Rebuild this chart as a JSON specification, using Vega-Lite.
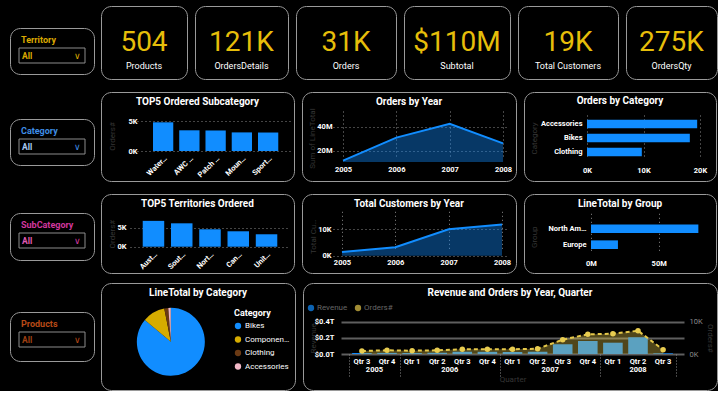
{
  "$schema": "https://vega.github.io/schema/vega-lite/v6.json",
  "background": "#000000",
  "padding": {"left": 9, "top": 5, "right": 0, "bottom": 0},
  "config": {
    "font": "Roboto",
    "view": {"stroke": "#9a9a9a", "strokeWidth": 1, "cornerRadius": 10},
    "axis": {"labelColor": "#ffffff", "labelFont": "Roboto", "labelFontWeight": "bold", "labelFontSize": 7.5, "domain": false, "ticks": false, "grid": false, "gridColor": "#8a8a8a", "gridDash": [1, 3], "gridWidth": 1, "titleColor": "#363636", "titleFont": "Roboto", "titleFontWeight": "normal", "titleFontSize": 8, "labelOverlap": false, "labelFlush": false, "labelBound": false, "labelPadding": 2},
    "title": {"color": "#ffffff", "font": "Roboto", "fontSize": 10, "fontWeight": "bold", "anchor": "middle", "frame": "group"},
    "text": {"font": "Roboto"}
  },
  "datasets": {
    "kpis": [
      {"metric": "Products", "value": 504, "currency": false},
      {"metric": "OrdersDetails", "value": 121317, "currency": false},
      {"metric": "Orders", "value": 31465, "currency": false},
      {"metric": "Subtotal", "value": 109846381, "currency": true},
      {"metric": "Total Customers", "value": 19119, "currency": false},
      {"metric": "OrdersQty", "value": 274914, "currency": false}
    ],
    "slicers": [
      {"Slicer": "Territory", "Selection": "All"},
      {"Slicer": "Category", "Selection": "All"},
      {"Slicer": "SubCategory", "Selection": "All"},
      {"Slicer": "Products", "Selection": "All"}
    ],
    "subcat": [
      {"Subcategory": "Water Bottle - 30 oz.", "Orders": 4780},
      {"Subcategory": "AWC Logo Cap", "Orders": 3450},
      {"Subcategory": "Patch Kit/8 Patches", "Orders": 3420},
      {"Subcategory": "Mountain Tire Tube", "Orders": 3100},
      {"Subcategory": "Sport-100 Helmet, Blue", "Orders": 3080}
    ],
    "ordersYear": [
      {"Year": 2005, "LineTotal": 12000000},
      {"Year": 2006, "LineTotal": 31000000},
      {"Year": 2007, "LineTotal": 42500000},
      {"Year": 2008, "LineTotal": 26200000}
    ],
    "ordersCat": [
      {"Category": "Accessories", "Orders": 19500},
      {"Category": "Bikes", "Orders": 18200},
      {"Category": "Clothing", "Orders": 9700}
    ],
    "territories": [
      {"Territory": "Australia", "Orders": 6900},
      {"Territory": "Southwest", "Orders": 6250},
      {"Territory": "Northwest", "Orders": 4650},
      {"Territory": "Canada", "Orders": 4120},
      {"Territory": "United Kingdom", "Orders": 3320}
    ],
    "custYear": [
      {"Year": 2005, "Customers": 1400},
      {"Year": 2006, "Customers": 3200},
      {"Year": 2007, "Customers": 10000},
      {"Year": 2008, "Customers": 11800}
    ],
    "groups": [
      {"Group": "North America", "LineTotal": 79300000},
      {"Group": "Europe", "LineTotal": 19900000}
    ],
    "catTotal": [
      {"Category": "Bikes", "LineTotal": 94600000},
      {"Category": "Components", "LineTotal": 11800000},
      {"Category": "Clothing", "LineTotal": 2100000},
      {"Category": "Accessories", "LineTotal": 1300000}
    ],
    "quarterly": [
      {"Year": "2005", "Period": "2005 Q3", "Revenue": 1.2e10, "Orders": 930},
      {"Year": "2005", "Period": "2005 Q4", "Revenue": 1.4e10, "Orders": 1140},
      {"Year": "2006", "Period": "2006 Q1", "Revenue": 1.2e10, "Orders": 1020},
      {"Year": "2006", "Period": "2006 Q2", "Revenue": 1.5e10, "Orders": 1140},
      {"Year": "2006", "Period": "2006 Q3", "Revenue": 2.8e10, "Orders": 1450},
      {"Year": "2006", "Period": "2006 Q4", "Revenue": 2.7e10, "Orders": 1450},
      {"Year": "2007", "Period": "2007 Q1", "Revenue": 2.5e10, "Orders": 1460},
      {"Year": "2007", "Period": "2007 Q2", "Revenue": 2.8e10, "Orders": 1640},
      {"Year": "2007", "Period": "2007 Q3", "Revenue": 1.2e11, "Orders": 4430},
      {"Year": "2007", "Period": "2007 Q4", "Revenue": 1.61e11, "Orders": 6100},
      {"Year": "2008", "Period": "2008 Q1", "Revenue": 1.4e11, "Orders": 6290},
      {"Year": "2008", "Period": "2008 Q2", "Revenue": 2.07e11, "Orders": 7200},
      {"Year": "2008", "Period": "2008 Q3", "Revenue": 8e9, "Orders": 1330}
    ]
  },
  "hconcat": [
    {
      "vconcat": [
        {"width": 84, "height": 22, "data": {"values": []}, "mark": "point", "view": {"stroke": null}},
        {
          "width": 84, "height": 46,
          "title": {"text": "Territory", "color": "#DBA800", "anchor": "start", "dx": 11, "offset": -17, "fontSize": 9},
          "data": {"name": "slicers"},
          "transform": [{"filter": "datum.Slicer === 'Territory'"}],
          "layer": [
            {"mark": {"type": "rect", "filled": false, "stroke": "#8c8c8c", "strokeWidth": 1},
             "encoding": {"x": {"field": "Selection", "type": "nominal", "axis": null, "scale": {"range": [9, 75], "paddingInner": 0, "paddingOuter": 0}},
                          "y": {"field": "Selection", "type": "nominal", "axis": null, "scale": {"range": [20, 35], "paddingInner": 0, "paddingOuter": 0}}}},
            {"mark": {"type": "text", "align": "left", "dx": 3, "color": "#DBA800", "fontWeight": "bold", "fontSize": 8.5},
             "encoding": {"x": {"field": "Selection", "type": "nominal", "axis": null, "bandPosition": 0, "scale": {"range": [9, 75], "paddingInner": 0, "paddingOuter": 0}},
                          "y": {"field": "Selection", "type": "nominal", "axis": null, "scale": {"range": [20, 35], "paddingInner": 0, "paddingOuter": 0}},
                          "text": {"field": "Selection"}}},
            {"mark": {"type": "text", "align": "right", "dx": -4, "color": "#DBA800", "fontSize": 9},
             "encoding": {"x": {"field": "Selection", "type": "nominal", "axis": null, "bandPosition": 1, "scale": {"range": [9, 75], "paddingInner": 0, "paddingOuter": 0}},
                          "y": {"field": "Selection", "type": "nominal", "axis": null, "scale": {"range": [20, 35], "paddingInner": 0, "paddingOuter": 0}},
                          "text": {"value": "∨"}}}
          ]
        },
        {"width": 84, "height": 45, "data": {"values": []}, "mark": "point", "view": {"stroke": null}},
        {
          "width": 84, "height": 46,
          "title": {"text": "Category", "color": "#3F8EE6", "anchor": "start", "dx": 11, "offset": -17, "fontSize": 9},
          "data": {"name": "slicers"},
          "transform": [{"filter": "datum.Slicer === 'Category'"}],
          "layer": [
            {"mark": {"type": "rect", "filled": false, "stroke": "#8c8c8c", "strokeWidth": 1},
             "encoding": {"x": {"field": "Selection", "type": "nominal", "axis": null, "scale": {"range": [9, 75], "paddingInner": 0, "paddingOuter": 0}},
                          "y": {"field": "Selection", "type": "nominal", "axis": null, "scale": {"range": [20, 35], "paddingInner": 0, "paddingOuter": 0}}}},
            {"mark": {"type": "text", "align": "left", "dx": 3, "color": "#A6C8F2", "fontWeight": "bold", "fontSize": 8.5},
             "encoding": {"x": {"field": "Selection", "type": "nominal", "axis": null, "bandPosition": 0, "scale": {"range": [9, 75], "paddingInner": 0, "paddingOuter": 0}},
                          "y": {"field": "Selection", "type": "nominal", "axis": null, "scale": {"range": [20, 35], "paddingInner": 0, "paddingOuter": 0}},
                          "text": {"field": "Selection"}}},
            {"mark": {"type": "text", "align": "right", "dx": -4, "color": "#3F8EE6", "fontSize": 9},
             "encoding": {"x": {"field": "Selection", "type": "nominal", "axis": null, "bandPosition": 1, "scale": {"range": [9, 75], "paddingInner": 0, "paddingOuter": 0}},
                          "y": {"field": "Selection", "type": "nominal", "axis": null, "scale": {"range": [20, 35], "paddingInner": 0, "paddingOuter": 0}},
                          "text": {"value": "∨"}}}
          ]
        },
        {"width": 84, "height": 48, "data": {"values": []}, "mark": "point", "view": {"stroke": null}},
        {
          "width": 84, "height": 47,
          "title": {"text": "SubCategory", "color": "#D1379E", "anchor": "start", "dx": 11, "offset": -17, "fontSize": 9},
          "data": {"name": "slicers"},
          "transform": [{"filter": "datum.Slicer === 'SubCategory'"}],
          "layer": [
            {"mark": {"type": "rect", "filled": false, "stroke": "#8c8c8c", "strokeWidth": 1},
             "encoding": {"x": {"field": "Selection", "type": "nominal", "axis": null, "scale": {"range": [9, 75], "paddingInner": 0, "paddingOuter": 0}},
                          "y": {"field": "Selection", "type": "nominal", "axis": null, "scale": {"range": [20, 35], "paddingInner": 0, "paddingOuter": 0}}}},
            {"mark": {"type": "text", "align": "left", "dx": 3, "color": "#E05AB4", "fontWeight": "bold", "fontSize": 8.5},
             "encoding": {"x": {"field": "Selection", "type": "nominal", "axis": null, "bandPosition": 0, "scale": {"range": [9, 75], "paddingInner": 0, "paddingOuter": 0}},
                          "y": {"field": "Selection", "type": "nominal", "axis": null, "scale": {"range": [20, 35], "paddingInner": 0, "paddingOuter": 0}},
                          "text": {"field": "Selection"}}},
            {"mark": {"type": "text", "align": "right", "dx": -4, "color": "#D1379E", "fontSize": 9},
             "encoding": {"x": {"field": "Selection", "type": "nominal", "axis": null, "bandPosition": 1, "scale": {"range": [9, 75], "paddingInner": 0, "paddingOuter": 0}},
                          "y": {"field": "Selection", "type": "nominal", "axis": null, "scale": {"range": [20, 35], "paddingInner": 0, "paddingOuter": 0}},
                          "text": {"value": "∨"}}}
          ]
        },
        {"width": 84, "height": 52, "data": {"values": []}, "mark": "point", "view": {"stroke": null}},
        {
          "width": 84, "height": 49,
          "title": {"text": "Products", "color": "#B84A17", "anchor": "start", "dx": 11, "offset": -17, "fontSize": 9},
          "data": {"name": "slicers"},
          "transform": [{"filter": "datum.Slicer === 'Products'"}],
          "layer": [
            {"mark": {"type": "rect", "filled": false, "stroke": "#8c8c8c", "strokeWidth": 1},
             "encoding": {"x": {"field": "Selection", "type": "nominal", "axis": null, "scale": {"range": [9, 75], "paddingInner": 0, "paddingOuter": 0}},
                          "y": {"field": "Selection", "type": "nominal", "axis": null, "scale": {"range": [20, 35], "paddingInner": 0, "paddingOuter": 0}}}},
            {"mark": {"type": "text", "align": "left", "dx": 3, "color": "#9E3F12", "fontWeight": "bold", "fontSize": 8.5},
             "encoding": {"x": {"field": "Selection", "type": "nominal", "axis": null, "bandPosition": 0, "scale": {"range": [9, 75], "paddingInner": 0, "paddingOuter": 0}},
                          "y": {"field": "Selection", "type": "nominal", "axis": null, "scale": {"range": [20, 35], "paddingInner": 0, "paddingOuter": 0}},
                          "text": {"field": "Selection"}}},
            {"mark": {"type": "text", "align": "right", "dx": -4, "color": "#B84A17", "fontSize": 9},
             "encoding": {"x": {"field": "Selection", "type": "nominal", "axis": null, "bandPosition": 1, "scale": {"range": [9, 75], "paddingInner": 0, "paddingOuter": 0}},
                          "y": {"field": "Selection", "type": "nominal", "axis": null, "scale": {"range": [20, 35], "paddingInner": 0, "paddingOuter": 0}},
                          "text": {"value": "∨"}}}
          ]
        }
      ],
      "spacing": 0,
      "bounds": "flush"
    },
    {
      "vconcat": [
        {
          "vconcat": [
            {
              "hconcat": [
                {
                  "width": 86, "height": 73, "data": {"name": "kpis"},
                  "transform": [{"filter": "datum.metric === 'Products'"}, {"calculate": "(datum.currency ? '$' : '') + (datum.value >= 1e6 ? format(datum.value/1e6, '.0f') + 'M' : datum.value >= 1e4 ? format(datum.value/1e3, '.0f') + 'K' : format(datum.value, 'd'))", "as": "display"}],
                  "encoding": {"x": {"field": "metric", "type": "nominal", "axis": null}, "y": {"field": "metric", "type": "nominal", "axis": null}},
                  "layer": [
                    {"mark": {"type": "text", "fontSize": 28, "color": "#E6BE0A", "dy": 0}, "encoding": {"text": {"field": "display"}}},
                    {"mark": {"type": "text", "fontSize": 9, "color": "#ffffff", "dy": 23}, "encoding": {"text": {"field": "metric"}}}
                  ]
                },
                {
                  "width": 93, "height": 73, "data": {"name": "kpis"},
                  "transform": [{"filter": "datum.metric === 'OrdersDetails'"}, {"calculate": "(datum.currency ? '$' : '') + (datum.value >= 1e6 ? format(datum.value/1e6, '.0f') + 'M' : datum.value >= 1e4 ? format(datum.value/1e3, '.0f') + 'K' : format(datum.value, 'd'))", "as": "display"}],
                  "encoding": {"x": {"field": "metric", "type": "nominal", "axis": null}, "y": {"field": "metric", "type": "nominal", "axis": null}},
                  "layer": [
                    {"mark": {"type": "text", "fontSize": 28, "color": "#E6BE0A", "dy": 0}, "encoding": {"text": {"field": "display"}}},
                    {"mark": {"type": "text", "fontSize": 9, "color": "#ffffff", "dy": 23}, "encoding": {"text": {"field": "metric"}}}
                  ]
                },
                {
                  "width": 100, "height": 73, "data": {"name": "kpis"},
                  "transform": [{"filter": "datum.metric === 'Orders'"}, {"calculate": "(datum.currency ? '$' : '') + (datum.value >= 1e6 ? format(datum.value/1e6, '.0f') + 'M' : datum.value >= 1e4 ? format(datum.value/1e3, '.0f') + 'K' : format(datum.value, 'd'))", "as": "display"}],
                  "encoding": {"x": {"field": "metric", "type": "nominal", "axis": null}, "y": {"field": "metric", "type": "nominal", "axis": null}},
                  "layer": [
                    {"mark": {"type": "text", "fontSize": 28, "color": "#E6BE0A", "dy": 0}, "encoding": {"text": {"field": "display"}}},
                    {"mark": {"type": "text", "fontSize": 9, "color": "#ffffff", "dy": 23}, "encoding": {"text": {"field": "metric"}}}
                  ]
                },
                {
                  "width": 106, "height": 73, "data": {"name": "kpis"},
                  "transform": [{"filter": "datum.metric === 'Subtotal'"}, {"calculate": "(datum.currency ? '$' : '') + (datum.value >= 1e6 ? format(datum.value/1e6, '.0f') + 'M' : datum.value >= 1e4 ? format(datum.value/1e3, '.0f') + 'K' : format(datum.value, 'd'))", "as": "display"}],
                  "encoding": {"x": {"field": "metric", "type": "nominal", "axis": null}, "y": {"field": "metric", "type": "nominal", "axis": null}},
                  "layer": [
                    {"mark": {"type": "text", "fontSize": 28, "color": "#E6BE0A", "dy": 0}, "encoding": {"text": {"field": "display"}}},
                    {"mark": {"type": "text", "fontSize": 9, "color": "#ffffff", "dy": 23}, "encoding": {"text": {"field": "metric"}}}
                  ]
                },
                {
                  "width": 100, "height": 73, "data": {"name": "kpis"},
                  "transform": [{"filter": "datum.metric === 'Total Customers'"}, {"calculate": "(datum.currency ? '$' : '') + (datum.value >= 1e6 ? format(datum.value/1e6, '.0f') + 'M' : datum.value >= 1e4 ? format(datum.value/1e3, '.0f') + 'K' : format(datum.value, 'd'))", "as": "display"}],
                  "encoding": {"x": {"field": "metric", "type": "nominal", "axis": null}, "y": {"field": "metric", "type": "nominal", "axis": null}},
                  "layer": [
                    {"mark": {"type": "text", "fontSize": 28, "color": "#E6BE0A", "dy": 0}, "encoding": {"text": {"field": "display"}}},
                    {"mark": {"type": "text", "fontSize": 9, "color": "#ffffff", "dy": 23}, "encoding": {"text": {"field": "metric"}}}
                  ]
                },
                {
                  "width": 91, "height": 73, "data": {"name": "kpis"},
                  "transform": [{"filter": "datum.metric === 'OrdersQty'"}, {"calculate": "(datum.currency ? '$' : '') + (datum.value >= 1e6 ? format(datum.value/1e6, '.0f') + 'M' : datum.value >= 1e4 ? format(datum.value/1e3, '.0f') + 'K' : format(datum.value, 'd'))", "as": "display"}],
                  "encoding": {"x": {"field": "metric", "type": "nominal", "axis": null}, "y": {"field": "metric", "type": "nominal", "axis": null}},
                  "layer": [
                    {"mark": {"type": "text", "fontSize": 28, "color": "#E6BE0A", "dy": 0}, "encoding": {"text": {"field": "display"}}},
                    {"mark": {"type": "text", "fontSize": 9, "color": "#ffffff", "dy": 23}, "encoding": {"text": {"field": "metric"}}}
                  ]
                }
              ],
              "spacing": 8,
              "bounds": "flush"
            },
            {
              "hconcat": [
                {
                  "width": 193, "height": 89,
                  "title": {"text": "TOP5 Ordered Subcategory", "offset": -15},
                  "data": {"name": "subcat"},
                  "mark": {"type": "bar", "color": "#118DFF"},
                  "encoding": {
                    "x": {"field": "Subcategory", "type": "nominal", "sort": "-y", "title": null,
                          "scale": {"range": [32, 189], "paddingInner": 0.227, "paddingOuter": 0.604, "align": 0.63},
                          "axis": {"orient": "bottom", "offset": -30, "labelAngle": -45, "labelLimit": 27, "labelPadding": 3}},
                    "y": {"field": "Orders", "type": "quantitative",
                          "scale": {"domain": [0, 5000], "range": [59, 29], "nice": false},
                          "axis": {"title": "Orders#", "offset": -38, "values": [0, 5000], "labelExpr": "format(datum.value/1000, 'd') + 'K'", "grid": true, "titleX": -27, "titleBaseline": "middle"}}
                  }
                },
                {
                  "width": 214, "height": 89,
                  "title": {"text": "Orders by Year", "offset": -15},
                  "data": {"name": "ordersYear"},
                  "encoding": {
                    "x": {"field": "Year", "type": "ordinal", "scale": {"type": "point", "range": [31, 206], "padding": 0.14, "align": 0.67},
                          "axis": {"title": null, "orient": "bottom", "offset": -19, "labelAngle": 0, "grid": true, "labelPadding": 3}},
                    "y": {"field": "LineTotal", "type": "quantitative", "scale": {"domain": [10800000, 50600000], "range": [70, 22], "nice": false, "zero": false},
                          "axis": {"title": "Sum of LineTotal", "offset": -32, "values": [20000000, 40000000], "labelExpr": "format(datum.value/1e6, 'd') + 'M'", "grid": true, "titleX": -22, "titleBaseline": "middle"}}
                  },
                  "layer": [
                    {"mark": {"type": "area", "color": "#118DFF", "opacity": 0.4}, "encoding": {"y2": {"datum": 10800000}}},
                    {"mark": {"type": "line", "color": "#118DFF", "strokeWidth": 2}}
                  ]
                },
                {
                  "width": 192, "height": 89,
                  "title": {"text": "Orders by Category", "offset": -14},
                  "data": {"name": "ordersCat"},
                  "mark": {"type": "bar", "color": "#118DFF"},
                  "encoding": {
                    "y": {"field": "Category", "type": "nominal", "sort": "-x", "scale": {"range": [25, 67], "paddingInner": 0.4, "paddingOuter": 0.2},
                          "axis": {"title": "Category", "offset": -61, "labelPadding": 3, "titleX": -51, "titleBaseline": "middle"}},
                    "x": {"field": "Orders", "type": "quantitative", "scale": {"domain": [0, 20000], "range": [63, 176], "nice": false},
                          "axis": {"title": null, "orient": "bottom", "offset": -22, "values": [0, 10000, 20000], "labelExpr": "format(datum.value/1000, 'd') + 'K'", "grid": true, "labelPadding": 7}}
                  }
                }
              ],
              "spacing": 8,
              "bounds": "flush"
            },
            {
              "hconcat": [
                {
                  "width": 193, "height": 79,
                  "title": {"text": "TOP5 Territories Ordered", "offset": -15},
                  "data": {"name": "territories"},
                  "mark": {"type": "bar", "color": "#118DFF"},
                  "encoding": {
                    "x": {"field": "Territory", "type": "nominal", "sort": "-y", "title": null,
                          "scale": {"range": [29, 189], "paddingInner": 0.239, "paddingOuter": 0.45, "align": 0.5},
                          "axis": {"orient": "bottom", "offset": -26, "labelAngle": -45, "labelLimit": 22, "labelPadding": 3}},
                    "y": {"field": "Orders", "type": "quantitative", "scale": {"domain": [0, 7000], "range": [52.7, 26.5], "nice": false},
                          "axis": {"title": "Orders#", "offset": -27, "values": [0, 5000], "labelExpr": "format(datum.value/1000, 'd') + 'K'", "grid": true, "titleX": -16, "titleBaseline": "middle"}}
                  }
                },
                {
                  "width": 214, "height": 79,
                  "title": {"text": "Total Customers by Year", "offset": -15},
                  "data": {"name": "custYear"},
                  "encoding": {
                    "x": {"field": "Year", "type": "ordinal", "scale": {"type": "point", "range": [31, 206], "padding": 0.14, "align": 0.6},
                          "axis": {"title": null, "orient": "bottom", "offset": -17, "labelAngle": 0, "grid": true, "labelPadding": 2}},
                    "y": {"field": "Customers", "type": "quantitative", "scale": {"domain": [0, 14800], "range": [61.7, 22.7], "nice": false},
                          "axis": {"title": "Total Customers", "titleLimit": 36, "offset": -31, "values": [0, 10000], "labelExpr": "format(datum.value/1000, 'd') + 'K'", "grid": true, "titleX": -20, "titleBaseline": "middle"}}
                  },
                  "layer": [
                    {"mark": {"type": "area", "color": "#118DFF", "opacity": 0.4}},
                    {"mark": {"type": "line", "color": "#118DFF", "strokeWidth": 2}}
                  ]
                },
                {
                  "width": 192, "height": 79,
                  "title": {"text": "LineTotal by Group", "offset": -15},
                  "data": {"name": "groups"},
                  "mark": {"type": "bar", "color": "#118DFF"},
                  "encoding": {
                    "y": {"field": "Group", "type": "nominal", "sort": "-x", "scale": {"range": [22.7, 62.7], "paddingInner": 0.46, "paddingOuter": 0.48},
                          "axis": {"title": "Group", "offset": -65, "labelPadding": 3, "labelLimit": 42, "titleX": -55, "titleBaseline": "middle"}},
                    "x": {"field": "LineTotal", "type": "quantitative", "scale": {"domain": [0, 80000000], "range": [67, 175.3], "nice": false},
                          "axis": {"title": null, "orient": "bottom", "offset": -16, "values": [0, 50000000], "labelExpr": "format(datum.value/1e6, 'd') + 'M'", "grid": true, "labelPadding": 2}}
                  }
                }
              ],
              "spacing": 8,
              "bounds": "flush"
            }
          ],
          "spacing": 11
        },
        {
          "hconcat": [
            {
              "width": 194, "height": 107,
              "title": {"text": "LineTotal by Category", "offset": -15},
              "data": {"name": "catTotal"},
              "mark": {"type": "arc", "outerRadius": 34},
              "encoding": {
                "x": {"datum": 0.36, "type": "quantitative", "scale": {"domain": [0, 1], "nice": false, "zero": false}, "axis": null},
                "y": {"datum": 0.45, "type": "quantitative", "scale": {"domain": [0, 1], "nice": false, "zero": false}, "axis": null},
                "theta": {"field": "LineTotal", "type": "quantitative", "stack": true},
                "order": {"field": "LineTotal", "type": "quantitative", "sort": "descending"},
                "color": {"field": "Category", "type": "nominal",
                          "scale": {"domain": ["Bikes", "Components", "Clothing", "Accessories"], "range": ["#118DFF", "#D6AC00", "#6B3A14", "#F2B8C6"]},
                          "legend": {"orient": "none", "legendX": 133, "legendY": 26, "direction": "vertical", "title": "Category", "titleColor": "#ffffff", "titleFontSize": 9, "titleFontWeight": "bold", "titleFont": "Roboto", "titlePadding": 4, "labelColor": "#ffffff", "labelFontSize": 8, "labelFont": "Roboto", "labelLimit": 44.5, "labelOffset": 3, "symbolType": "circle", "symbolSize": 40, "rowPadding": 5.5, "padding": 0}}
              }
            },
            {
              "width": 414, "height": 107,
              "title": {"text": "Revenue and Orders by Year, Quarter", "offset": -15},
              "layer": [
                {
                  "data": {"name": "quarterly"},
                  "encoding": {
                    "x": {"field": "Period", "type": "nominal", "sort": "ascending",
                          "scale": {"range": [38, 381], "paddingInner": 0.22, "paddingOuter": 0.4425, "align": 0.5},
                          "axis": {"orient": "bottom", "offset": -36, "labelExpr": "'Qtr ' + slice(datum.label, -1)", "title": "Quarter", "titlePadding": 11, "labelPadding": 3, "labelAngle": 0}}
                  },
                  "layer": [
                    {"mark": {"type": "bar", "color": "#118DFF"},
                     "encoding": {"y": {"field": "Revenue", "type": "quantitative", "scale": {"domain": [0, 4e11], "range": [71, 38.7], "nice": false},
                                        "axis": {"orient": "left", "title": "Revenue", "offset": -33, "values": [0, 2e11, 4e11], "labelExpr": "'$' + format(datum.value/1e12, '.1f') + 'T'", "grid": true, "gridDash": [], "gridColor": "#5f5f5f", "gridWidth": 2, "titleX": -23, "titleBaseline": "middle"}}}},
                    {
                      "encoding": {"y": {"field": "Orders", "type": "quantitative", "scale": {"domain": [0, 10000], "range": [71, 38.7], "nice": false},
                                         "axis": {"orient": "right", "title": "Orders#", "offset": -30, "values": [0, 10000], "labelExpr": "format(datum.value/1000, 'd') + 'K'", "labelColor": "#8a8a8a", "labelFontWeight": "normal", "grid": false, "titleX": 22, "titleBaseline": "middle"}}},
                      "layer": [
                        {"mark": {"type": "area", "color": "#E5C84A", "opacity": 0.35}},
                        {"mark": {"type": "line", "color": "#E5C84A", "strokeWidth": 2, "strokeDash": [4, 3]}},
                        {"mark": {"type": "point", "filled": true, "color": "#E8CC50", "size": 30, "opacity": 1}}
                      ]
                    }
                  ],
                  "resolve": {"scale": {"y": "independent"}, "axis": {"y": "independent"}}
                },
                {
                  "data": {"name": "quarterly"},
                  "transform": [{"window": [{"op": "row_number", "as": "idx"}], "sort": [{"field": "Period", "order": "ascending"}]}],
                  "mark": {"type": "text", "color": "#ffffff", "fontWeight": "bold", "fontSize": 7.5, "dy": 33},
                  "encoding": {
                    "x": {"aggregate": "mean", "field": "idx", "type": "quantitative",
                          "scale": {"domain": [0.5, 13.5], "range": [46.35, 372.65], "nice": false, "zero": false},
                          "axis": {"orient": "bottom", "offset": -36, "values": [0.5, 2.5, 6.5, 10.5, 13.5], "labels": false, "ticks": true, "tickSize": 22, "tickDash": [1, 2], "tickColor": "#8a8a8a", "tickWidth": 1, "grid": false, "title": null}},
                    "text": {"field": "Year", "type": "nominal"}
                  }
                },
                {
                  "data": {"values": [{"series": "Revenue"}, {"series": "Orders#"}]},
                  "mark": {"type": "point", "filled": true, "size": 0},
                  "encoding": {
                    "color": {"field": "series", "type": "nominal", "scale": {"domain": ["Revenue", "Orders#"], "range": ["#118DFF", "#E5C84A"]},
                              "legend": {"orient": "none", "legendX": 4, "legendY": 21, "direction": "horizontal", "title": null, "labelColor": "#666666", "labelFontSize": 8, "labelFont": "Roboto", "labelOffset": 2, "columnPadding": 6, "symbolSize": 40, "symbolType": "circle", "padding": 0}}
                  }
                }
              ],
              "resolve": {"scale": {"x": "independent", "y": "independent"}, "axis": {"x": "independent", "y": "independent"}}
            }
          ],
          "spacing": 8,
          "bounds": "flush",
          "resolve": {"scale": {"color": "independent"}, "legend": {"color": "independent"}}
        }
      ],
      "spacing": 8,
      "resolve": {"scale": {"color": "independent"}, "legend": {"color": "independent"}}
    }
  ],
  "spacing": 5,
  "resolve": {"scale": {"color": "independent"}, "legend": {"color": "independent"}}
}
